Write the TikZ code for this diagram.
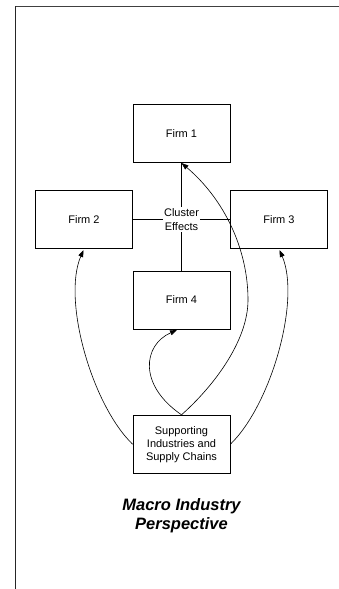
\documentclass[tikz,border=0pt]{standalone}
\usepackage{fontspec}
\setmainfont{Liberation Sans}
\usetikzlibrary{arrows.meta}
\begin{document}
\begin{tikzpicture}[x=1pt,y=-1pt,
  firmbox/.style={draw=black,line width=0.8pt,minimum width=97pt,minimum height=58pt,inner sep=0pt,align=center,font=\fontsize{11}{13}\selectfont},
  link/.style={line width=0.7pt},
  feed/.style={line width=0.6pt,-{Triangle[length=7pt,width=5pt]}}]
\useasboundingbox (0,0) rectangle (339,589);
\draw[line width=1.3pt,draw=black!75] (15,6.5) -- (339,6.5);
\draw[line width=1pt,draw=black!85] (15.5,6) -- (15.5,589);
\node[firmbox] (f1) at (181.5,133.3) {Firm 1};
\node[firmbox] (f2) at (84,219.5) {Firm 2};
\node[firmbox] (f3) at (279,219.5) {Firm 3};
\node[firmbox] (f4) at (181.5,300) {Firm 4};
\node[firmbox] (sup) at (181.5,444.2) {Supporting\\Industries and\\Supply Chains};
\draw[link] (f1.south) -- (f4.north);
\draw[link] (f2.east) -- (f3.west);
\node[fill=white,inner sep=1.5pt,align=center,font=\fontsize{11}{13.5}\selectfont] (ce) at (181.5,219.5) {Cluster\\Effects};
\coordinate (e2) at (83.5,250);
\coordinate (e3) at (279.5,250);
\coordinate (e4) at (177,330);
\coordinate (e1) at (181.5,163);
\coordinate (r1) at (248,300);
\draw[feed] (sup.west) .. controls (92,405) and (62,300) .. (e2);
\draw[feed] (sup.east) .. controls (271,405) and (301,300) .. (e3);
\draw[feed] (sup.north) .. controls (138,385) and (143,345) .. (e4);
\draw[feed] (sup.north) .. controls (215,385) and (248,340) .. (r1) .. controls (248,250) and (225,200) .. (e1);
\node[font=\fontsize{16.5}{19}\selectfont\bfseries\itshape,align=center] (title) at (181.5,515.5) {Macro Industry\\Perspective};
\end{tikzpicture}
\end{document}
